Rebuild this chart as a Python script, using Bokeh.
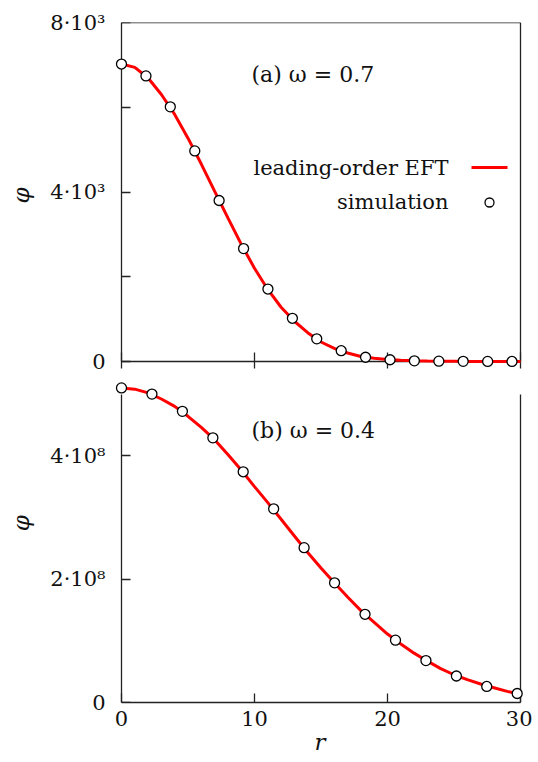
from bokeh.plotting import figure
from bokeh.models import LinearAxis, FixedTicker, Range1d, Label, BoxAnnotation
from bokeh.layouts import column
from bokeh.embed import file_html
from bokeh.resources import INLINE

# ---------------- data ----------------
r_curve = [0, 1, 2, 3, 4, 5, 6, 7, 8, 9, 10, 11, 12, 13, 14, 15, 16, 17, 18, 19, 20,
           21, 22, 23, 24, 25, 26, 27, 28, 29, 30]
eft_a = [7020, 6940, 6690, 6300, 5830, 5270, 4660, 4020, 3390, 2770, 2200, 1700, 1280,
         950, 680, 460, 310, 200, 120, 75, 45, 28, 16, 10, 6, 4, 2, 1, 1, 0, 0]
eft_b = [510e6, 508e6, 502e6, 492e6, 480e6, 464e6, 446e6, 426e6, 402e6, 377e6, 350e6,
         324e6, 297e6, 270e6, 243e6, 218e6, 194e6, 171e6, 149e6, 130e6, 111e6, 95e6,
         80e6, 67e6, 55e6, 45e6, 37e6, 30e6, 24e6, 18e6, 13e6]

r_sim_a = [0, 1.84, 3.67, 5.51, 7.34, 9.18, 11.01, 12.85, 14.68, 16.52, 18.35, 20.19,
           22.02, 23.86, 25.69, 27.53, 29.36]
sim_a = [7020, 6740, 6010, 4970, 3800, 2665, 1710, 1020, 535, 255, 100, 42, 16, 8, 4, 2, 1]

r_sim_b = [0, 2.29, 4.58, 6.87, 9.15, 11.44, 13.73, 16.02, 18.31, 20.6, 22.89, 25.18,
           27.46, 29.75]
sim_b = [510e6, 500e6, 472e6, 429e6, 374e6, 314e6, 251e6, 194e6, 143e6, 101e6, 68e6,
         43e6, 26e6, 14.6e6]

x_ticks = [0, 10, 20, 30]
y_ticks_a = [0, 2000, 4000, 6000, 8000]
y_label_ticks_a = [0, 4000, 8000]
y_labels_a = {0: "0", 4000: "4·10³", 8000: "8·10³"}
y_ticks_b = [0, 200000000, 400000000]
y_labels_b = {0: "0", 200000000: "2·10⁸", 400000000: "4·10⁸"}

label_a = "(a) ω = 0.7"
label_b = "(b) ω = 0.4"
legend_line = "leading-order EFT"
legend_sim = "simulation"
y_title = "φ"
x_title = "r"

# ---------------- style ----------------
FONT = "DejaVu Serif"
FS = "21px"
AX = "#222222"
TXT = "#111111"
NBSP = "\u00a0"


def style_axis(ax):
    ax.axis_line_color = AX
    ax.axis_line_width = 1.3
    ax.major_tick_line_color = AX
    ax.major_tick_line_width = 1.3
    ax.minor_tick_line_color = None
    ax.major_label_text_font = FONT
    ax.major_label_text_font_size = FS
    ax.major_label_text_color = TXT
    ax.axis_label_text_font = FONT
    ax.axis_label_text_font_size = "23px"
    ax.axis_label_text_font_style = "italic"
    ax.axis_label_text_color = TXT


def hide_labels(ax):
    ax.major_label_text_font_size = "0px"
    ax.major_label_text_color = None
    ax.major_label_standoff = 0


def line_axis(ticks, bounds, fixed, tick_in=0, tick_out=0):
    ax = LinearAxis(ticker=FixedTicker(ticks=ticks), bounds=bounds, fixed_location=fixed)
    style_axis(ax)
    if not ticks:
        ax.major_tick_line_color = None
    ax.major_tick_in = tick_in
    ax.major_tick_out = tick_out
    hide_labels(ax)
    return ax


def title_axis(text):
    ax = LinearAxis(ticker=FixedTicker(ticks=[]))
    style_axis(ax)
    ax.axis_line_color = None
    ax.major_tick_line_color = None
    ax.major_tick_in = 0
    ax.major_tick_out = 0
    hide_labels(ax)
    ax.axis_label = text
    ax.axis_label_standoff = 14
    return ax


def label_axis(ax, ticks, overrides):
    style_axis(ax)
    ax.ticker = FixedTicker(ticks=ticks)
    ax.major_label_overrides = overrides
    ax.axis_line_color = None
    ax.major_tick_line_color = None
    ax.major_tick_in = 0
    ax.major_tick_out = 0
    ax.major_label_standoff = 10


def make_fig(y_range, frame_h, mb_top, mb_bottom):
    p = figure(frame_width=409, frame_height=frame_h,
               x_range=Range1d(-0.45, 30.3), y_range=y_range,
               output_backend="svg", toolbar_location=None,
               min_border_left=115, min_border_right=8,
               min_border_top=mb_top, min_border_bottom=mb_bottom)
    p.outline_line_color = None
    p.xgrid.visible = False
    p.ygrid.visible = False
    p.background_fill_color = "white"
    p.border_fill_color = "white"
    return p


def screen_box(l, r, b, t, **kw):
    return BoxAnnotation(left=l, right=r, bottom=b, top=t,
                         left_units="screen", right_units="screen",
                         top_units="screen", bottom_units="screen", **kw)


def text_label(x, y, text, align="left", size=FS, **kw):
    return Label(x=x, y=y, x_units="screen", y_units="screen", text=text,
                 text_font=FONT, text_font_size=size, text_color=TXT,
                 text_align=align, text_baseline="middle", **kw)


# ---------------- top panel ----------------
p1 = make_fig(Range1d(-165, 8000), 346, 22, 10)
p1.line(r_curve, eft_a, line_color="red", line_width=3, level="overlay")
p1.scatter(r_sim_a, sim_a, marker="circle", size=10, fill_color="white",
           line_color="black", line_width=1.3, level="overlay")

label_axis(p1.yaxis[0], y_label_ticks_a, y_labels_a)
p1.add_layout(line_axis(y_ticks_a, (0, 8000), 0, tick_in=9), "left")
p1.add_layout(title_axis(y_title), "left")

xa = p1.xaxis[0]
style_axis(xa)
xa.ticker = FixedTicker(ticks=x_ticks)
xa.bounds = (0, 30)
xa.fixed_location = 0
xa.major_tick_in = 9
xa.major_tick_out = 9
hide_labels(xa)

p1.add_layout(line_axis([], (0, 8000), 30), "right")
p1.add_layout(line_axis([], (0, 30), 8000), "above")

p1.add_layout(text_label(136, 294, label_a, size="22px"))
p1.add_layout(text_label(333, 201, legend_line, align="right"))
p1.add_layout(text_label(333, 167, legend_sim, align="right"))
p1.add_layout(screen_box(356, 392, 199.5, 202.5, fill_color="red", fill_alpha=1,
                         line_color=None))
p1.add_layout(screen_box(369.5, 378.5, 161.5, 170.5, fill_color="white", fill_alpha=1,
                         line_color="black", line_alpha=1, line_width=1.3,
                         border_radius=5))

# ---------------- bottom panel ----------------
p2 = make_fig(Range1d(0, 5.22e8), 322, 2, 54)
p2.line(r_curve, eft_b, line_color="red", line_width=3, level="overlay")
p2.scatter(r_sim_b, sim_b, marker="circle", size=10, fill_color="white",
           line_color="black", line_width=1.3, level="overlay")

label_axis(p2.yaxis[0], y_ticks_b, y_labels_b)
p2.add_layout(line_axis(y_ticks_b, (0, 5e8), 0, tick_in=9), "left")
# leading no-break spaces lift the rotated symbol to where the reference has it
p2.add_layout(title_axis(NBSP * 5 + y_title), "left")

xb = p2.xaxis[0]
style_axis(xb)
xb.ticker = FixedTicker(ticks=x_ticks)
xb.bounds = (0, 30)
xb.major_tick_in = 9
xb.major_tick_out = 0
xb.major_label_standoff = 8
xb.axis_label = x_title
xb.axis_label_standoff = 0

p2.add_layout(line_axis([], (0, 5e8), 30), "right")

p2.add_layout(text_label(136, 272, label_b, size="22px"))

layout = column(p1, p2, spacing=0)
open("out.html", "w").write(file_html(layout, INLINE))
